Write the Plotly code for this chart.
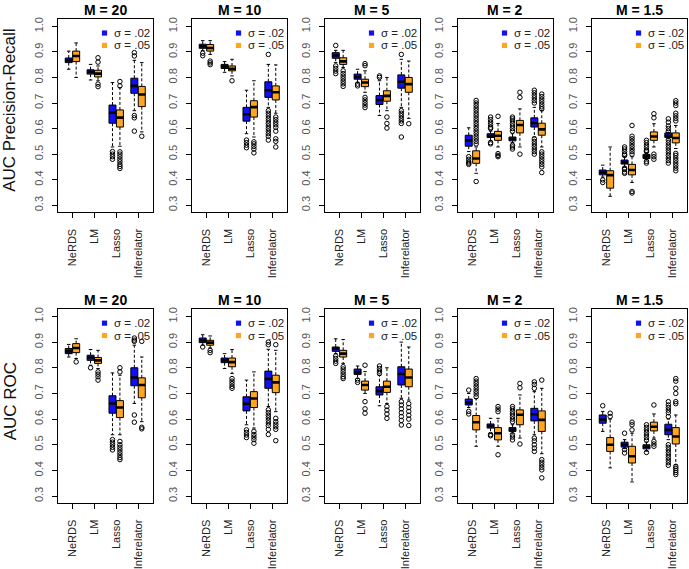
import plotly.graph_objects as go

METHODS = ["NeRDS", "LM", "Lasso", "Inferelator"]
M_LABELS = ["M = 20", "M = 10", "M = 5", "M = 2", "M = 1.5"]
SIGMAS = ["σ = .02", "σ = .05"]
ROW_TITLES = ["AUC Precision-Recall", "AUC ROC"]
Y_TICKS = [0.3, 0.4, 0.5, 0.6, 0.7, 0.8, 0.9, 1.0]

# box stats per panel (M) per method: [lower whisker, q1, median, q3, upper whisker]
PR_S02 = [
    [[0.832, 0.858, 0.866, 0.876, 0.903], [0.790, 0.813, 0.822, 0.830, 0.851],
     [0.528, 0.621, 0.662, 0.692, 0.780], [0.670, 0.738, 0.767, 0.797, 0.867]],
    [[0.905, 0.914, 0.922, 0.930, 0.944], [0.820, 0.835, 0.843, 0.851, 0.862],
     [0.580, 0.629, 0.656, 0.683, 0.750], [0.683, 0.722, 0.750, 0.783, 0.851]],
    [[0.858, 0.875, 0.886, 0.897, 0.906], [0.780, 0.793, 0.802, 0.813, 0.832],
     [0.651, 0.694, 0.712, 0.729, 0.787], [0.683, 0.758, 0.783, 0.810, 0.871]],
    [[0.510, 0.531, 0.554, 0.574, 0.603], [0.553, 0.565, 0.572, 0.580, 0.590],
     [0.545, 0.552, 0.559, 0.567, 0.580], [0.567, 0.606, 0.621, 0.642, 0.683]],
    [[0.410, 0.419, 0.428, 0.438, 0.457], [0.450, 0.461, 0.468, 0.477, 0.490],
     [0.478, 0.483, 0.491, 0.499, 0.505], [0.560, 0.565, 0.572, 0.583, 0.585]],
]
PR_S02_OUT = [
    [[], [], [0.51, 0.50, 0.49, 0.48], [0.897, 0.884, 0.651, 0.642, 0.59]],
    [[0.895, 0.885], [], [0.555, 0.545, 0.535, 0.525],
     [0.89, 0.67, 0.66, 0.65, 0.64, 0.63, 0.62, 0.61, 0.60, 0.59, 0.58, 0.57, 0.555]],
    [[0.925, 0.845, 0.835, 0.825, 0.815], [0.774, 0.767], [0.806, 0.80],
     [0.89, 0.67, 0.66, 0.65, 0.64, 0.63, 0.62, 0.567]],
    [[0.49, 0.48, 0.47, 0.465, 0.46], [0.645, 0.635, 0.625, 0.615, 0.605, 0.60, 0.545, 0.54],
     [0.645, 0.638, 0.63, 0.62, 0.61, 0.60, 0.59, 0.535, 0.528, 0.52],
     [0.75, 0.74, 0.73, 0.72, 0.71, 0.70, 0.56, 0.55, 0.54, 0.53, 0.52, 0.51, 0.50]],
    [[0.399, 0.389], [0.528, 0.52, 0.51, 0.50, 0.495, 0.445, 0.44, 0.43, 0.425],
     [0.554, 0.545, 0.535, 0.525, 0.515, 0.51, 0.472, 0.465],
     [0.638, 0.625, 0.61, 0.60, 0.59, 0.555, 0.545, 0.535, 0.525, 0.515, 0.505, 0.495, 0.485, 0.475, 0.465]],
]
PR_S05 = [
    [[0.800, 0.862, 0.884, 0.903, 0.935], [0.787, 0.802, 0.815, 0.828, 0.845],
     [0.531, 0.606, 0.643, 0.673, 0.760], [0.587, 0.686, 0.733, 0.765, 0.858]],
    [[0.890, 0.903, 0.915, 0.929, 0.944], [0.806, 0.826, 0.834, 0.845, 0.871],
     [0.567, 0.645, 0.684, 0.709, 0.787], [0.660, 0.712, 0.742, 0.767, 0.849]],
    [[0.839, 0.851, 0.863, 0.877, 0.906], [0.742, 0.764, 0.780, 0.793, 0.826],
     [0.670, 0.707, 0.728, 0.748, 0.800], [0.640, 0.742, 0.774, 0.800, 0.864]],
    [[0.425, 0.464, 0.483, 0.513, 0.528], [0.528, 0.554, 0.572, 0.589, 0.620],
     [0.528, 0.583, 0.614, 0.632, 0.677], [0.528, 0.574, 0.597, 0.621, 0.670]],
    [[0.335, 0.367, 0.418, 0.435, 0.528], [0.389, 0.419, 0.438, 0.460, 0.490],
     [0.528, 0.554, 0.569, 0.587, 0.619], [0.522, 0.544, 0.563, 0.583, 0.612]],
]
PR_S05_OUT = [
    [[], [0.877, 0.86, 0.774, 0.764],
     [0.784, 0.767, 0.509, 0.50, 0.49, 0.48, 0.47, 0.46, 0.452, 0.444], [0.57]],
    [[0.864, 0.857, 0.85], [0.787], [0.548, 0.54, 0.53, 0.52, 0.505],
     [0.645, 0.635, 0.625, 0.615, 0.605, 0.59, 0.56, 0.55, 0.528]],
    [[0.826, 0.815, 0.805, 0.795, 0.785, 0.775, 0.765],
     [0.854, 0.846, 0.722, 0.712, 0.702, 0.692, 0.682], [0.645, 0.62, 0.602], [0.619]],
    [[0.71, 0.70, 0.69, 0.68, 0.67, 0.66, 0.65, 0.64, 0.63, 0.62, 0.61, 0.60, 0.59, 0.58, 0.57, 0.56, 0.55, 0.54, 0.393],
     [0.648, 0.502, 0.495, 0.49], [0.742, 0.722, 0.50],
     [0.735, 0.725, 0.715, 0.705, 0.695, 0.685, 0.677, 0.509, 0.50, 0.49, 0.48, 0.47, 0.46, 0.45, 0.428]],
    [[], [0.612, 0.57, 0.56, 0.55, 0.54, 0.53, 0.52, 0.51, 0.50, 0.354, 0.348],
     [0.658, 0.642, 0.50, 0.49, 0.48],
     [0.709, 0.70, 0.69, 0.66, 0.65, 0.64, 0.63, 0.503, 0.495, 0.485, 0.475, 0.465, 0.455, 0.445, 0.435]],
]
ROC_S02 = [
    [[0.842, 0.855, 0.864, 0.875, 0.891], [0.810, 0.829, 0.840, 0.849, 0.871],
     [0.539, 0.623, 0.661, 0.691, 0.780], [0.661, 0.730, 0.762, 0.800, 0.888]],
    [[0.888, 0.898, 0.907, 0.916, 0.929], [0.797, 0.820, 0.829, 0.838, 0.855],
     [0.578, 0.632, 0.660, 0.687, 0.752], [0.649, 0.720, 0.756, 0.787, 0.872]],
    [[0.855, 0.864, 0.874, 0.881, 0.913], [0.758, 0.774, 0.783, 0.795, 0.807],
     [0.652, 0.694, 0.709, 0.726, 0.771], [0.681, 0.733, 0.776, 0.804, 0.900]],
    [[0.645, 0.655, 0.665, 0.678, 0.700], [0.545, 0.565, 0.573, 0.581, 0.603],
     [0.545, 0.552, 0.559, 0.567, 0.578], [0.539, 0.593, 0.619, 0.642, 0.707]],
    [[0.552, 0.584, 0.598, 0.616, 0.630], [0.485, 0.491, 0.500, 0.510, 0.520],
     [0.475, 0.484, 0.492, 0.500, 0.510], [0.520, 0.539, 0.558, 0.580, 0.600]],
]
ROC_S02_OUT = [
    [[], [0.80], [0.52, 0.51, 0.50, 0.49, 0.48], [0.916, 0.908, 0.903, 0.616, 0.588]],
    [[0.881], [], [0.558, 0.548, 0.538, 0.528],
     [0.90, 0.89, 0.636, 0.625, 0.615, 0.605, 0.595, 0.585, 0.575, 0.56, 0.54]],
    [[0.846, 0.836, 0.826, 0.817], [0.752, 0.743], [0.807, 0.797, 0.787, 0.778],
     [0.668, 0.655, 0.64, 0.625, 0.61, 0.595, 0.577]],
    [[0.713, 0.63, 0.62], [0.54, 0.535],
     [0.649, 0.64, 0.63, 0.62, 0.61, 0.60, 0.59, 0.539, 0.53, 0.519],
     [0.745, 0.735, 0.72, 0.526, 0.515, 0.50, 0.487, 0.474]],
    [[0.652], [0.545, 0.481, 0.468], [0.578, 0.568, 0.558, 0.548, 0.538, 0.528, 0.518, 0.47],
     [0.668, 0.655, 0.645, 0.635, 0.625, 0.61, 0.50, 0.49, 0.48, 0.47, 0.46, 0.45, 0.44, 0.43, 0.42]],
]
ROC_S05 = [
    [[0.836, 0.859, 0.877, 0.894, 0.913], [0.797, 0.817, 0.829, 0.840, 0.868],
     [0.539, 0.606, 0.645, 0.672, 0.771], [0.590, 0.683, 0.733, 0.761, 0.842]],
    [[0.877, 0.888, 0.898, 0.907, 0.924], [0.778, 0.804, 0.822, 0.838, 0.871],
     [0.565, 0.645, 0.680, 0.707, 0.784], [0.629, 0.703, 0.743, 0.771, 0.868]],
    [[0.817, 0.842, 0.855, 0.868, 0.910], [0.700, 0.713, 0.733, 0.748, 0.785],
     [0.661, 0.704, 0.726, 0.748, 0.800], [0.674, 0.726, 0.762, 0.795, 0.881]],
    [[0.494, 0.558, 0.588, 0.614, 0.680], [0.494, 0.519, 0.545, 0.567, 0.603],
     [0.526, 0.578, 0.617, 0.636, 0.694], [0.465, 0.552, 0.597, 0.632, 0.720]],
    [[0.410, 0.474, 0.500, 0.528, 0.600], [0.355, 0.429, 0.455, 0.494, 0.545],
     [0.526, 0.554, 0.570, 0.588, 0.620], [0.422, 0.503, 0.532, 0.567, 0.616]],
]
ROC_S05_OUT = [
    [[0.823], [0.784, 0.775, 0.765, 0.752],
     [0.80, 0.784, 0.513, 0.50, 0.49, 0.48, 0.47, 0.46, 0.45, 0.442], [0.903, 0.568, 0.562]],
    [[0.868, 0.859], [0.758, 0.748, 0.738, 0.728, 0.72], [0.552, 0.54, 0.53, 0.52, 0.506],
     [0.89, 0.603, 0.59, 0.58, 0.57, 0.56, 0.516]],
    [[0.804, 0.795, 0.785, 0.775, 0.765, 0.758], [0.81, 0.668, 0.64, 0.623],
     [0.649, 0.635, 0.62, 0.603], [0.66, 0.645, 0.63, 0.615, 0.60, 0.575]],
    [[0.758, 0.748, 0.738, 0.728, 0.718, 0.708, 0.698, 0.687], [0.649, 0.639, 0.629, 0.461],
     [0.739, 0.722, 0.503], [0.752, 0.442, 0.432, 0.422, 0.412, 0.402, 0.371]],
    [[0.623, 0.61], [0.588, 0.578, 0.558], [0.655, 0.513, 0.503, 0.494],
     [0.758, 0.748, 0.72, 0.70, 0.668, 0.66, 0.416, 0.408, 0.40, 0.392, 0.384]],
]

ROWS = [[PR_S02, PR_S05], [ROC_S02, ROC_S05]]
ROWS_OUT = [[PR_S02_OUT, PR_S05_OUT], [ROC_S02_OUT, ROC_S05_OUT]]
COLORS = ["#1010F0", "#FFA520"]
OFFSETS = [-0.17, 0.17]
BOX_W = 0.32
STAPLE = 0.08

W, H = 689, 569
PANEL_LEFT = [58, 192, 325, 458, 592]
PANEL_W = 94.5
ROW_TOP = [17.3, 310.0]
ROW_BOT = [212.3, 505.7]
FONT = "Liberation Sans, Arial, Helvetica, sans-serif"

fig = go.Figure()
layout = dict(width=W, height=H, margin=dict(l=0, r=0, t=0, b=0),
              paper_bgcolor="white", plot_bgcolor="white", showlegend=False,
              boxmode="overlay", font=dict(family=FONT, color="black"))
annotations = []
shapes = []

for r in range(2):
    for p in range(5):
        idx = r * 5 + p + 1
        xa, ya = f"x{idx}", f"y{idx}"
        for s in range(2):
            stats = ROWS[r][s][p]
            outs = ROWS_OUT[r][s][p]
            xs = [m + 1 + OFFSETS[s] for m in range(4)]
            lw = [b[0] for b in stats]
            q1 = [b[1] for b in stats]
            md = [b[2] for b in stats]
            q3 = [b[3] for b in stats]
            uw = [b[4] for b in stats]
            wx, wy = [], []
            sx, sy = [], []
            mx, my = [], []
            for i in range(4):
                wx += [xs[i], xs[i], None, xs[i], xs[i], None]
                wy += [q3[i], uw[i], None, q1[i], lw[i], None]
                sx += [xs[i] - STAPLE, xs[i] + STAPLE, None, xs[i] - STAPLE, xs[i] + STAPLE, None]
                sy += [uw[i], uw[i], None, lw[i], lw[i], None]
                mx += [xs[i] - BOX_W / 2, xs[i] + BOX_W / 2, None]
                my += [md[i], md[i], None]
            fig.add_trace(go.Scatter(x=wx, y=wy, mode="lines", xaxis=xa, yaxis=ya,
                                     line=dict(color="black", width=1, dash="3px,2px"),
                                     hoverinfo="skip"))
            fig.add_trace(go.Scatter(x=sx, y=sy, mode="lines", xaxis=xa, yaxis=ya,
                                     line=dict(color="black", width=1), hoverinfo="skip"))
            fig.add_trace(go.Box(x=xs, q1=q1, median=md, q3=q3, lowerfence=q1, upperfence=q3,
                                 width=BOX_W, fillcolor=COLORS[s], boxpoints=False,
                                 line=dict(color="black", width=1), xaxis=xa, yaxis=ya,
                                 hoverinfo="skip", whiskerwidth=0))
            fig.add_trace(go.Scatter(x=mx, y=my, mode="lines", xaxis=xa, yaxis=ya,
                                     line=dict(color="black", width=2.6), hoverinfo="skip"))
            ox, oy = [], []
            for i in range(4):
                ox += [xs[i]] * len(outs[i])
                oy += outs[i]
            fig.add_trace(go.Scatter(x=ox, y=oy, mode="markers", xaxis=xa, yaxis=ya,
                                     marker=dict(symbol="circle-open", size=4.5, color="black",
                                                 line=dict(width=1)),
                                     hoverinfo="skip"))
        x0 = PANEL_LEFT[p] / W
        x1 = (PANEL_LEFT[p] + PANEL_W) / W
        y0 = 1 - ROW_BOT[r] / H
        y1 = 1 - ROW_TOP[r] / H
        key = "" if idx == 1 else str(idx)
        layout["xaxis" + key] = dict(domain=[x0, x1], anchor=ya, range=[0.34, 4.66],
                                     tickvals=[1, 2, 3, 4], ticktext=METHODS, tickangle=-90,
                                     ticks="outside", ticklen=5, tickcolor="black",
                                     showline=True, mirror=True, linecolor="black", linewidth=1,
                                     showgrid=False, zeroline=False, ticklabelstandoff=6,
                                     tickfont=dict(size=11, color="#222", family=FONT))
        layout["yaxis" + key] = dict(domain=[y0, y1], anchor=xa, range=[0.272, 1.028],
                                     tickvals=Y_TICKS, ticktext=[f"{v:.1f}" for v in Y_TICKS],
                                     tickangle=-90, ticks="outside", ticklen=5, tickcolor="black",
                                     showline=True, mirror=True, linecolor="black", linewidth=1,
                                     showgrid=False, zeroline=False, ticklabelstandoff=5,
                                     tickfont=dict(size=11, color="#555", family=FONT))
        annotations.append(dict(text=f"<b>{M_LABELS[p]}</b>", x=(x0 + x1) / 2,
                                y=1 - (ROW_TOP[r] - 9) / H, xref="paper", yref="paper",
                                showarrow=False, xanchor="center", yanchor="middle",
                                font=dict(size=14, family=FONT)))
        for s in range(2):
            cy = ROW_TOP[r] + 14 + 12.5 * s
            cx = PANEL_LEFT[p] + PANEL_W - 48
            shapes.append(dict(type="rect", xref="paper", yref="paper",
                               x0=(cx - 2.6) / W, x1=(cx + 2.6) / W,
                               y0=1 - (cy + 2.6) / H, y1=1 - (cy - 2.6) / H,
                               fillcolor=COLORS[s], line=dict(width=0)))
            annotations.append(dict(text=SIGMAS[s], x=(cx + 8) / W, y=1 - cy / H,
                                    xref="paper", yref="paper", showarrow=False,
                                    xanchor="left", yanchor="middle", borderpad=0,
                                    font=dict(size=11.5, color="#222", family=FONT)))
    annotations.append(dict(text=ROW_TITLES[r], x=10 / W,
                            y=1 - ((ROW_TOP[r] + ROW_BOT[r]) / 2 - 5) / H,
                            xref="paper", yref="paper", showarrow=False, textangle=-90,
                            xanchor="center", yanchor="middle",
                            font=dict(size=17, family=FONT, color="#111")))

layout["annotations"] = annotations
layout["shapes"] = shapes
fig.update_layout(**layout)
fig.write_html("out.html", config={"displayModeBar": False},
               post_script="document.body.style.margin='0px';document.body.style.padding='0px';document.body.style.overflow='hidden';")
